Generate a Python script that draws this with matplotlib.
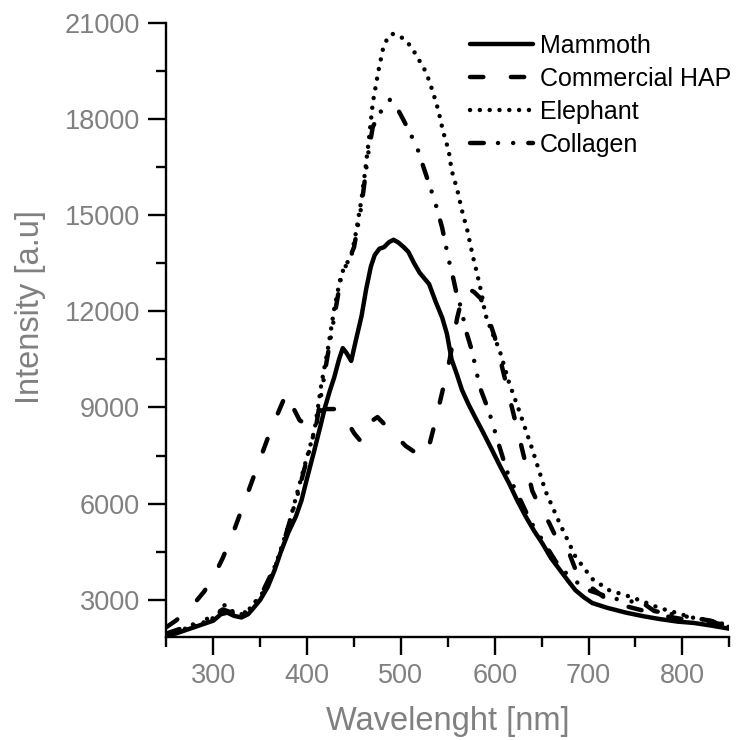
import matplotlib
matplotlib.use('Agg')
import matplotlib.pyplot as plt
from matplotlib.ticker import MultipleLocator

# ---------------- data ----------------
mammoth_x = [250, 260, 270, 280, 290, 300, 308, 315, 322, 330, 337, 343, 350, 358, 365, 372, 380,
             388, 394, 400, 408, 414, 419, 424, 429, 434, 438, 442, 447, 452, 458, 463, 468, 472,
             477, 482, 487, 492, 497, 503, 508, 514, 520, 530, 537, 544, 549, 554, 560, 565, 572,
             579, 588, 597, 606, 615, 624, 633, 642, 651, 660, 669, 678, 686, 695, 704, 720, 740,
             760, 776, 795, 812, 830, 850]
mammoth_y = [1900, 1950, 2050, 2150, 2250, 2350, 2550, 2600, 2500, 2450, 2550, 2750, 3000, 3400,
             3900, 4500, 5100, 5600, 6100, 6800, 7700, 8400, 9000, 9500, 9950, 10500, 10850, 10700,
             10450, 11100, 11850, 12700, 13400, 13750, 13950, 14000, 14150, 14230, 14150, 14000,
             13850, 13500, 13200, 12850, 12300, 11800, 11300, 10500, 10000, 9550, 9100, 8700, 8200,
             7680, 7150, 6650, 6100, 5600, 5150, 4750, 4300, 3950, 3600, 3300, 3080, 2900, 2750,
             2600, 2480, 2400, 2320, 2280, 2200, 2100]

hap_x = [250, 260, 270, 280, 290, 300, 310, 320, 330, 340, 350, 360, 370, 378, 385, 392, 400, 410,
         420, 430, 440, 450, 457, 465, 475, 485, 495, 505, 515, 522, 530, 537, 545, 552, 560, 566,
         572, 578, 585, 592, 600, 610, 620, 630, 640, 648, 658, 665, 678, 686, 700, 720, 740, 760,
         780, 800, 820, 850]
hap_y = [2150, 2350, 2600, 2900, 3250, 3700, 4300, 5000, 5800, 6600, 7400, 8200, 8900, 9450, 9000,
         8600, 8450, 8850, 8950, 8950, 8700, 8200, 7950, 8500, 8700, 8400, 8100, 7800, 7600, 7450,
         7800, 8600, 9600, 10500, 11800, 12500, 12700, 12600, 12400, 11900, 11200, 10000, 8800,
         7600, 6400, 5900, 5400, 4970, 4560, 3950, 3450, 3000, 2800, 2650, 2500, 2400, 2350, 2200]

elephant_x = [250, 270, 290, 305, 311, 320, 330, 340, 350, 360, 370, 380, 390, 397, 408, 415, 422,
              429, 436, 440, 447, 452, 458, 462, 466, 470, 476, 481, 486, 491, 497, 503, 508, 514,
              519, 525, 530, 535, 540, 545, 551, 554, 560, 565, 571, 576, 581, 586, 590, 597, 605,
              615, 626, 640, 654, 669, 686, 704, 722, 744, 758, 775, 793, 810, 830, 850]
elephant_y = [1900, 2100, 2300, 2500, 2850, 2650, 2550, 2750, 3100, 3600, 4400, 5300, 6400, 7150,
              8300, 9700, 10800, 12100, 13100, 13400, 13700, 14450, 15500, 16400, 17400, 18500,
              19500, 20200, 20550, 20650, 20600, 20500, 20350, 20100, 19850, 19550, 19200, 18750,
              18250, 17600, 17000, 16400, 15800, 15150, 14500, 13800, 13200, 12550, 11900, 11350,
              10800, 9800, 8900, 7700, 6400, 5400, 4350, 3650, 3300, 3100, 2950, 2750, 2600, 2450,
              2350, 2200]

collagen_x = [250, 270, 290, 310, 330, 350, 370, 390, 410, 420, 430, 437, 443, 450, 458, 465, 470,
              476, 482, 488, 493, 497, 503, 508, 517, 525, 536, 544, 551, 556, 560, 565, 568, 576,
              584, 594, 606, 615, 626, 638, 650, 665, 680, 700, 720, 740, 750, 758, 770, 790, 810,
              830, 850]
collagen_y = [1950, 2150, 2350, 2700, 2500, 3100, 4300, 6300, 8500, 10300, 12000, 13200, 13500,
              14000, 15300, 16900, 17750, 18100, 18400, 18600, 18400, 18280, 17950, 17660, 17130,
              16410, 15450, 14600, 13600, 13000, 12450, 12050, 11520, 10740, 9640, 8860, 7680, 6840,
              6200, 5450, 4900, 4200, 3700, 3300, 3100, 2950, 2950, 2900, 2650, 2550, 2450, 2350,
              2150]

series_labels = ['Mammoth', 'Commercial HAP', 'Elephant', 'Collagen']
x_ticks = [300, 400, 500, 600, 700, 800]
y_ticks = [3000, 6000, 9000, 12000, 15000, 18000, 21000]

# ---------------- figure ----------------
plt.rcParams['font.family'] = ['Liberation Sans', 'DejaVu Sans']
GRAY = '#808080'
LW = 3.2

fig = plt.figure(figsize=(7.39, 7.40), dpi=100)
ax = fig.add_axes([0.2252, 0.1396, 0.7616, 0.8297])

ax.plot(mammoth_x, mammoth_y, color='black', lw=LW, ls='-',
        solid_joinstyle='round', solid_capstyle='round', label=series_labels[0])
ax.plot(hap_x, hap_y, color='black', lw=LW, ls=(0, (3.0, 6.2)),
        dash_capstyle='round', label=series_labels[1])
ax.plot(elephant_x, elephant_y, color='black', lw=LW, ls=(0, (0.01, 2.2)),
        dash_capstyle='round', label=series_labels[2])
ax.plot(collagen_x, collagen_y, color='black', lw=LW, ls=(0, (3.1, 3.2, 0.01, 3.4, 0.01, 3.4)),
        dash_capstyle='round', label=series_labels[3])

ax.set_xlim(250, 850)
ax.set_ylim(1850, 21000)
ax.set_xticks(x_ticks)
ax.set_yticks(y_ticks)
ax.xaxis.set_minor_locator(MultipleLocator(50))
ax.yaxis.set_minor_locator(MultipleLocator(1500))

for s in ['top', 'right']:
    ax.spines[s].set_visible(False)
for s in ['left', 'bottom']:
    ax.spines[s].set_linewidth(1.7)

ax.tick_params(which='major', direction='out', length=13, width=1.7,
               labelsize=19.5, labelcolor=GRAY, pad=6)
ax.tick_params(which='minor', direction='out', length=7, width=1.7)

ax.set_xlabel('Wavelenght [nm]', fontsize=23.5, color=GRAY)
ax.set_ylabel('Intensity [a.u]', fontsize=23.5, color=GRAY)
ax.yaxis.label.set(va='center', ha='center')
ax.xaxis.label.set(va='center', ha='center')
ax.yaxis.set_label_coords(-0.2416, 0.537)
ax.xaxis.set_label_coords(0.5, -0.138)

leg = ax.legend(loc='upper left', bbox_to_anchor=(0.5395, 0.982), frameon=False,
                fontsize=18, handlelength=2.5, handletextpad=0.3, labelspacing=0.36,
                borderpad=0, borderaxespad=0)

fig.savefig('out.png', dpi=100)
